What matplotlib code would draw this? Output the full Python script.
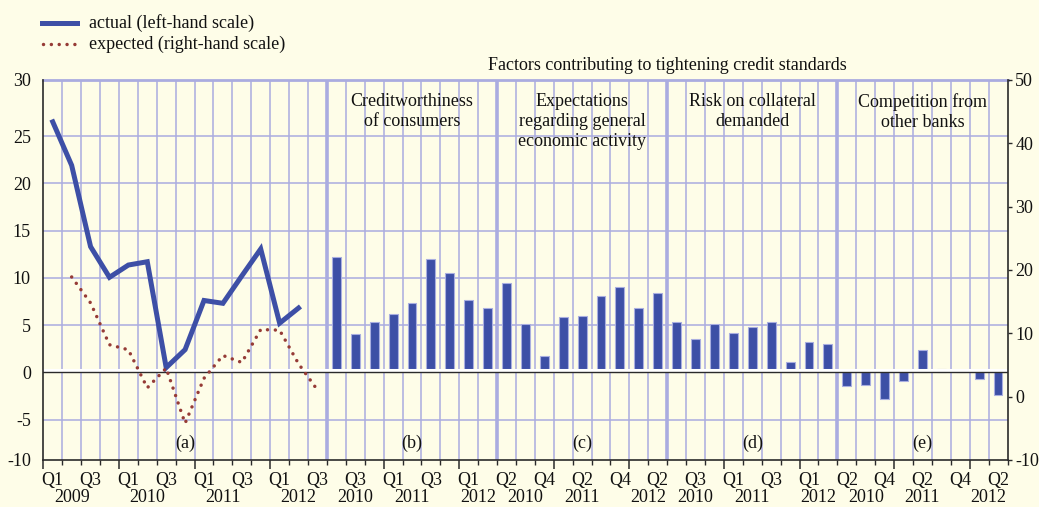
import matplotlib
matplotlib.use("Agg")
import matplotlib.pyplot as plt
from matplotlib.lines import Line2D
from matplotlib.transforms import offset_copy, blended_transform_factory
import numpy as np

# ---------------- data ----------------
# Panel (a): quarterly, Q1 2009 .. Q3 2012
panel_a_years = [2009, 2010, 2011, 2012]
panel_a_quarters = ["Q1", "Q2", "Q3", "Q4"] * 3 + ["Q1", "Q2", "Q3"]
actual = [26.5, 21.9, 13.3, 10.05, 11.35, 11.7, 0.5, 2.4, 7.6, 7.3, 10.2, 13.05, 5.2, 6.8]  # Q1 2009 .. Q2 2012
expected = [18.9, 14.8, 8.2, 7.4, 1.4, 4.5, -4.2, 2.9, 6.5, 5.4, 10.6, 10.5, 5.2, 1.05]   # Q2 2009 .. Q3 2012

# Factor panels: quarterly, Q2 2010 .. Q2 2012
factor_quarters = ["Q2", "Q3", "Q4", "Q1", "Q2", "Q3", "Q4", "Q1", "Q2"]
factor_years = [2010, 2010, 2010, 2011, 2011, 2011, 2011, 2012, 2012]
creditworthiness = [12.2, 4.1, 5.3, 6.2, 7.3, 12.0, 10.5, 7.7, 6.8]
expectations = [9.4, 5.1, 1.7, 5.8, 6.0, 8.1, 9.0, 6.8, 8.4]
collateral = [5.3, 3.5, 5.1, 4.2, 4.8, 5.3, 1.1, 3.2, 3.0]
competition = [-1.4, -1.3, -2.8, -0.9, 2.4, 0.3, 0.0, -0.7, -2.4]

factor_titles = ["Creditworthiness\nof consumers",
                 "Expectations\nregarding general\neconomic activity",
                 "Risk on collateral\ndemanded",
                 "Competition from\nother banks"]
panel_letters = ["(a)", "(b)", "(c)", "(d)", "(e)"]
label_parity = [0, 1, 0, 1, 0]   # which quarters in each panel carry a label

left_ticks = [-10, -5, 0, 5, 10, 15, 20, 25, 30]
right_ticks = [-10, 0, 10, 20, 30, 40, 50]

# ---------------- style ----------------
BG = "#FEFDE8"
BLUE = "#3D4FA6"
RED = "#963B36"
GRID = "#AAACE0"
DARK = "#2A2A2A"
FONT = ["Liberation Serif", "DejaVu Serif"]
FS = 13

plt.rcParams["font.family"] = FONT
plt.rcParams["font.size"] = FS
plt.rcParams["axes.unicode_minus"] = False

W, H = 1039, 507
fig = plt.figure(figsize=(W / 100, H / 100), dpi=100)
fig.patch.set_facecolor(BG)
x0, x1, ytop, ybot = 43.3, 1007.5, 80, 460
ax = fig.add_axes([x0 / W, 1 - ybot / H, (x1 - x0) / W, (ybot - ytop) / H])
ax.set_facecolor(BG)
ax2 = ax.twinx()
ax2.patch.set_visible(False)

# build x positions
n_a = len(panel_a_quarters)
nf = len(factor_quarters)
panel_starts = [0] + [n_a + k * nf for k in range(4)]
panel_lens = [n_a] + [nf] * 4
ntot = n_a + 4 * nf
ax.set_xlim(-0.5, ntot - 0.5)

# left-scale: gridlines at 5-unit spacing; outer labels sit at the frame edges
lo, hi = -9.28, 30.93
ax.set_ylim(lo, hi)
ax2.set_ylim(right_ticks[0], right_ticks[-1])
ypos = [lo] + left_ticks[1:-1] + [hi]
ax.set_yticks(ypos)
ax.set_yticklabels([str(t) for t in left_ticks])
ax2.set_yticks(right_ticks)
ax2.set_yticklabels([str(t) for t in right_ticks])

# grid
for y in left_ticks[1:-1]:
    ax.axhline(y, color=GRID, lw=1.1, zorder=0.5)
ax.axhline(hi, color=GRID, lw=2.0, zorder=0.5, clip_on=False)
seps = [s - 0.5 for s in panel_starts[1:]]
for b in range(1, ntot):
    xb = b - 0.5
    ax.axvline(xb, color=GRID, lw=2.6 if xb in seps else 1.1, zorder=0.5)

# panel (a) lines
xa = np.arange(n_a)
ax.plot(xa[:len(actual)], actual, color=BLUE, lw=3.6, zorder=4, solid_joinstyle="miter")
ax2.plot(xa[1:1 + len(expected)], expected, color=RED, lw=2.5,
         linestyle=(0, (0.01, 2.25)), dash_capstyle="round", zorder=4)

# factor bars
for k, vals in enumerate([creditworthiness, expectations, collateral, competition]):
    xs = panel_starts[k + 1] + np.arange(nf)
    ax.bar(xs, vals, width=0.47, color=BLUE, edgecolor="#A9AEE0", linewidth=0.8, zorder=2)

# zero line with white highlight above
tr = offset_copy(ax.get_yaxis_transform(), fig=fig, x=0, y=2.0, units="dots")
ax.plot([0, 1], [0, 0], color="white", lw=2.2, transform=tr, zorder=2.5)
ax.axhline(0, color=DARK, lw=1.0, zorder=3)

# spines and ticks
for s in ["top"]:
    ax.spines[s].set_visible(False)
    ax2.spines[s].set_visible(False)
ax2.spines["left"].set_visible(False)
ax2.spines["bottom"].set_visible(False)
ax.spines["right"].set_visible(False)
for s in ["left", "bottom"]:
    ax.spines[s].set_color(DARK)
    ax.spines[s].set_linewidth(1.2)
ax2.spines["right"].set_color(DARK)
ax2.spines["right"].set_linewidth(1.2)

ax.tick_params(axis="y", length=0, pad=9, labelsize=FS, colors="#111")
ax2.tick_params(axis="y", length=3, width=1, direction="out", pad=2.5, labelsize=FS,
                colors=DARK, labelcolor="#111")

# x ticks: all quarter boundaries; longer at year starts
quarters_all, years_all = [], []
yr_a = []
for yv in panel_a_years:
    yr_a += [yv] * 4
quarters_all += panel_a_quarters
years_all += yr_a[:n_a]
for k in range(4):
    quarters_all += factor_quarters
    years_all += factor_years
major = [i - 0.5 for i in range(ntot) if quarters_all[i] == "Q1"]
minor = [i - 0.5 for i in range(1, ntot + 1) if (i - 0.5) not in major]
ax.set_xticks(major)
ax.set_xticks(minor, minor=True)
ax.set_xticklabels([])
ax.tick_params(axis="x", which="major", length=6.5, width=1.1, color=DARK, direction="out")
ax.tick_params(axis="x", which="minor", length=3.5, width=1.0, color=DARK, direction="out")

bt = blended_transform_factory(ax.transData, ax.transAxes)
for p in range(5):
    st, ln = panel_starts[p], panel_lens[p]
    for j in range(ln):
        if j % 2 == label_parity[p]:
            ax.text(st + j, -0.055, quarters_all[st + j], transform=bt,
                    ha="center", va="center", fontsize=FS, color="#111")
    # year labels
    yrs = years_all[st:st + ln]
    for yv in sorted(set(yrs)):
        idx = [st + j for j in range(ln) if yrs[j] == yv]
        n = len(idx)
        xpos = idx[0] + min(n - 1, 2) / 2
        ax.text(xpos, -0.100, str(yv), transform=bt, ha="center", va="center",
                fontsize=FS, color="#111")
    # panel letter
    cx = st + (ln - 1) / 2
    ax.text(cx, 0.045, panel_letters[p], transform=bt, ha="center", va="center",
            fontsize=FS, color="#111", zorder=5)
    if p > 0:
        ax.text(cx, 0.965, factor_titles[p - 1], transform=bt, ha="center", va="top",
                fontsize=FS, color="#111", linespacing=1.22, zorder=5)

ax.text((panel_starts[1] + ntot - 1) / 2, 1.039, "Factors contributing to tightening credit standards",
        transform=bt, ha="center", va="center", fontsize=FS, color="#111")

# legend (figure coords)
def fx(px):
    return px / W
def fy(py):
    return 1 - py / H
fig.add_artist(Line2D([fx(42), fx(77)], [fy(23), fy(23)], color=BLUE, lw=3.6))
fig.add_artist(Line2D([fx(43), fx(77)], [fy(44), fy(44)], color=RED, lw=2.5,
                      linestyle=(0, (0.01, 2.25)), dash_capstyle="round"))
fig.text(fx(89), fy(23), "actual (left-hand scale)", ha="left", va="center", fontsize=FS, color="#111")
fig.text(fx(89), fy(44), "expected (right-hand scale)", ha="left", va="center", fontsize=FS, color="#111")

fig.savefig("out.png", dpi=100, facecolor=BG)
